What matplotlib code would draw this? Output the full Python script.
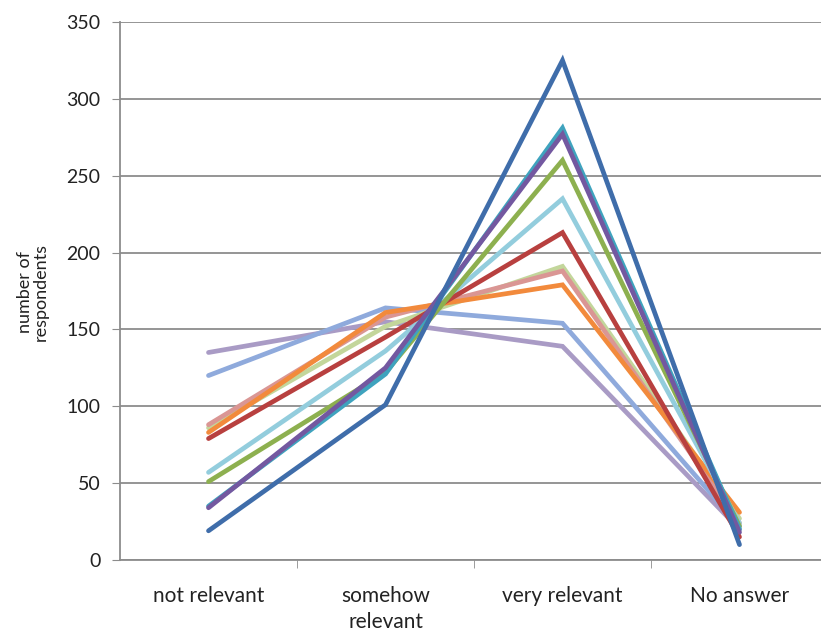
import matplotlib
matplotlib.use("Agg")
import matplotlib.pyplot as plt

categories = ["not relevant", "somehow\nrelevant", "very relevant", "No answer"]

s_blue = [19, 101, 325, 10]
s_red = [79, 145, 213, 15]
s_green = [51, 122, 260, 22]
s_purple = [34, 125, 277, 18]
s_teal = [35, 121, 281, 20]
s_orange = [83, 161, 179, 31]
s_lightblue = [120, 164, 154, 22]
s_pink = [88, 158, 188, 24]
s_lightgreen = [86, 152, 191, 27]
s_lightcyan = [57, 136, 235, 24]
s_lavender = [135, 155, 139, 20]

series = [s_lavender, s_lightblue, s_lightgreen, s_pink, s_orange, s_lightcyan,
          s_red, s_green, s_teal, s_purple, s_blue]
colors = ["#A99BC5", "#8FAADC", "#C3D69B", "#DA9694", "#F28A3C", "#93CDDD",
          "#B8403F", "#8DB04F", "#3FA3BE", "#7358A0", "#3F6DAA"]

ticks_y = [0, 50, 100, 150, 200, 250, 300, 350]

FONT = ["Lato", "DejaVu Sans"]

fig = plt.figure(figsize=(8.21, 6.31), dpi=100)
ax = fig.add_axes([120/821, 1-560/631, 708/821, 538/631])

x = list(range(len(categories)))
for vals, c in zip(series, colors):
    ax.plot(x, vals, color=c, lw=3.4, solid_joinstyle="miter", solid_capstyle="round")

ax.set_xlim(-0.5, 3.5)
ax.set_ylim(0, 350)
ax.set_yticks(ticks_y)
ax.set_xticks(x)
ax.set_xticklabels(categories, linespacing=1.35)
ax.set_xticks([0.5, 1.5, 2.5, 3.5], minor=True)
ax.tick_params(axis="x", which="major", length=0, pad=19, labelsize=15, colors="#222222")
ax.tick_params(axis="x", which="minor", length=6, color="#8c8c8c", direction="out")
ax.tick_params(axis="y", length=6, color="#8c8c8c", labelsize=14, colors="#222222", pad=8)
ax.grid(axis="y", color="#8c8c8c", lw=1.3)
ax.set_axisbelow(True)
for s in ["top", "right"]:
    ax.spines[s].set_visible(False)
for s in ["left", "bottom"]:
    ax.spines[s].set_color("#8c8c8c")
    ax.spines[s].set_linewidth(1.3)

fig.text(33/821, 1-292/631, "number of\nrespondents", rotation=90, ha="center", va="center",
         fontsize=13, color="#222222", family=FONT, linespacing=1.0)

for lab in ax.get_xticklabels() + ax.get_yticklabels():
    lab.set_family(FONT)

fig.savefig("out.png", dpi=100)
